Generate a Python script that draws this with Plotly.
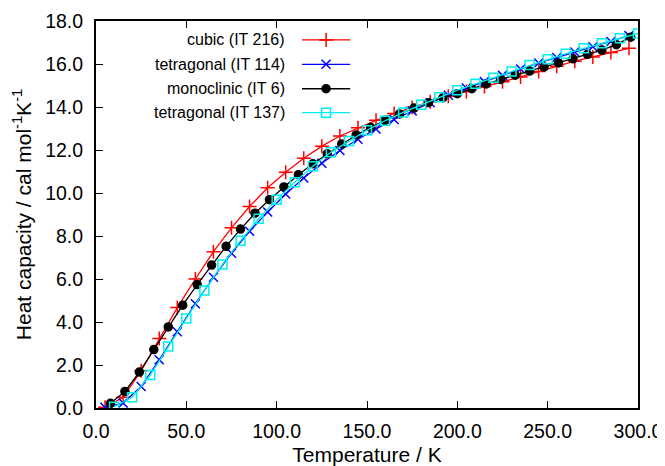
import plotly.graph_objects as go

# ---------------- data ----------------
T_cubic = [5, 15, 25, 35, 45, 55, 65, 75, 85, 95, 105, 115, 125, 135, 145, 155, 165, 175, 185, 195,
           205, 215, 225, 235, 245, 255, 265, 275, 285, 295]
C_cubic = [0.03, 0.50, 1.73, 3.23, 4.67, 6.00, 7.27, 8.38, 9.37, 10.24, 10.97, 11.62, 12.18, 12.65, 13.03,
           13.38, 13.70, 13.98, 14.25, 14.50, 14.72, 14.95, 15.18, 15.40, 15.65, 15.90, 16.13, 16.33, 16.53, 16.73]

T_tet114 = [5, 15, 25, 35, 45, 55, 65, 75, 85, 95, 105, 115, 125, 135, 145, 155, 165, 175, 185, 195,
            205, 215, 225, 235, 245, 255, 265, 275, 285, 295]
C_tet114 = [0.03, 0.23, 1.00, 2.24, 3.55, 4.85, 6.08, 7.20, 8.22, 9.12, 9.95, 10.70, 11.38, 11.98, 12.50,
            12.98, 13.42, 13.82, 14.20, 14.55, 14.88, 15.18, 15.47, 15.77, 16.05, 16.30, 16.56, 16.80, 17.05, 17.32]

T_mono = [8, 16, 24, 32, 40, 48, 56, 64, 72, 80, 88, 96, 104, 112, 120, 128, 136, 144, 152, 160,
          168, 176, 184, 192, 200, 208, 216, 224, 232, 240, 248, 256, 264, 272, 280, 288, 296]
C_mono = [0.22, 0.77, 1.67, 2.72, 3.77, 4.78, 5.74, 6.65, 7.52, 8.32, 9.06, 9.69, 10.28, 10.85, 11.36,
          11.82, 12.28, 12.70, 13.05, 13.38, 13.68, 13.95, 14.20, 14.43, 14.62, 14.85, 15.07, 15.28, 15.48,
          15.67, 15.86, 16.05, 16.24, 16.45, 16.65, 16.90, 17.25]

T_tet137 = [10, 20, 30, 40, 50, 60, 70, 80, 90, 100, 110, 120, 130, 140, 150, 160, 170, 180, 190, 200,
            210, 220, 230, 240, 250, 260, 270, 280, 290, 300]
C_tet137 = [0.06, 0.50, 1.53, 2.86, 4.16, 5.47, 6.68, 7.78, 8.80, 9.69, 10.50, 11.24, 11.89, 12.42, 12.92,
            13.36, 13.75, 14.10, 14.45, 14.78, 15.08, 15.36, 15.65, 15.95, 16.22, 16.48, 16.73, 16.96, 17.20, 17.42]

series_names = ["cubic (IT 216)", "tetragonal (IT 114)", "monoclinic (IT 6)", "tetragonal (IT 137)"]
x_ticks = [0, 50, 100, 150, 200, 250, 300]
y_ticks = [0, 2, 4, 6, 8, 10, 12, 14, 16, 18]

# ---------------- styles ----------------
styles = [
    dict(color="#ff0000", symbol="cross-thin", size=10),
    dict(color="#0000ff", symbol="x-thin", size=9),
    dict(color="#000000", symbol="circle", size=8),
    dict(color="#00f0f0", symbol="square-open", size=9),
]
series = [(T_cubic, C_cubic), (T_tet114, C_tet114), (T_mono, C_mono), (T_tet137, C_tet137)]

FONT = "Liberation Sans, Arial, sans-serif"

fig = go.Figure()
for (xs, ys), st, name in zip(series, styles, series_names):
    fig.add_trace(go.Scatter(
        x=xs, y=ys, mode="lines+markers", name=name, showlegend=False,
        line=dict(color=st["color"], width=1.3),
        marker=dict(symbol=st["symbol"], size=st["size"], color=st["color"],
                    line=dict(color=st["color"], width=1.5)),
    ))

# ---------------- custom legend (gnuplot style: text left, sample right) ----------------
leg_rows = [0.951, 0.888, 0.825, 0.763]
leg_text_x = 0.352
leg_line_x0, leg_line_x1 = 0.380, 0.469
leg_mark_x = (leg_line_x0 + leg_line_x1) / 2
for yr, st, name in zip(leg_rows, styles, series_names):
    fig.add_annotation(x=leg_text_x, y=yr, xref="paper", yref="paper", text=name,
                       showarrow=False, xanchor="right", yanchor="middle",
                       font=dict(family=FONT, size=16, color="#000000"))
    fig.add_shape(type="line", xref="paper", yref="paper", x0=leg_line_x0, x1=leg_line_x1,
                  y0=yr, y1=yr, line=dict(color=st["color"], width=1.3))
    fig.add_trace(go.Scatter(
        x=[leg_mark_x], y=[yr], xaxis="x2", yaxis="y2", mode="markers", showlegend=False,
        hoverinfo="skip",
        marker=dict(symbol=st["symbol"], size=st["size"], color=st["color"],
                    line=dict(color=st["color"], width=1.5)),
    ))

axis_common = dict(showgrid=False, zeroline=False, showline=True, linecolor="#000000", linewidth=2,
                   ticks="inside", ticklen=7, tickwidth=1.3, tickcolor="#000000", automargin=False,
                   tickfont=dict(family=FONT, size=19.5, color="#000000"), tickformat=".1f")

# the page body adds an 8px offset, so the figure is 8px smaller and margins compensate
fig.update_layout(
    width=657, height=458,
    margin=dict(l=88, r=27, t=13, b=58),
    paper_bgcolor="white", plot_bgcolor="white",
    showlegend=False,
    xaxis=dict(range=[0, 300], tickvals=x_ticks, mirror="ticks", ticklabelstandoff=5,
               title=dict(text="Temperature / K", font=dict(family=FONT, size=21, color="#000000"),
                          standoff=9),
               **axis_common),
    yaxis=dict(range=[0, 18], tickvals=y_ticks, mirror=True, ticklabelstandoff=7,
               title=dict(text="Heat capacity / cal mol<sup>-1</sup>K<sup>-1</sup>",
                          font=dict(family=FONT, size=21, color="#000000"), standoff=8),
               **axis_common),
    xaxis2=dict(overlaying="x", range=[0, 1], visible=False, fixedrange=True),
    yaxis2=dict(overlaying="y", range=[0, 1], visible=False, fixedrange=True),
)

fig.write_html("out.html")
